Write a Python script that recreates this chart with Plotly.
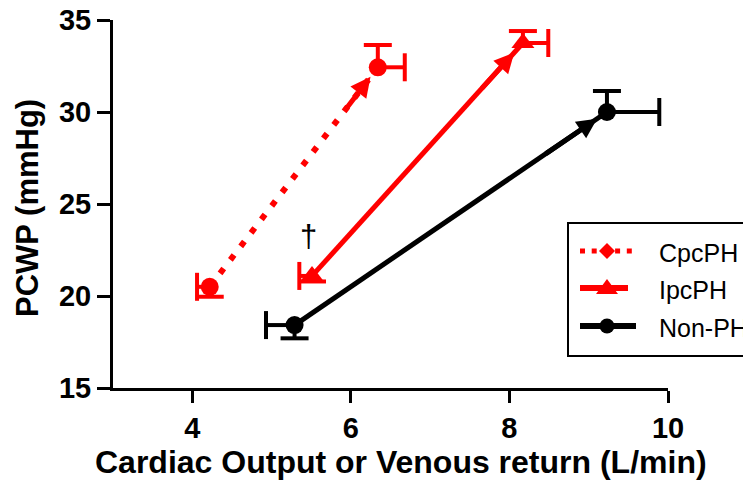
import plotly.graph_objects as go

# ---- data -------------------------------------------------------------
# each group: baseline point (index 0) and the end point of the arrow (index 1)
group_names = ["CpcPH", "IpcPH", "Non-PH"]

cpc_x = [4.22, 6.34]
cpc_y = [20.5, 32.43]
cpc_xerr_minus = [0.16, 0.0]
cpc_xerr_plus = [0.0, 0.34]
cpc_yerr_minus = [0.54, 0.0]
cpc_yerr_plus = [0.0, 1.21]

ipc_x = [5.51, 8.17]
ipc_y = [21.09, 33.75]
ipc_xerr_minus = [0.16, 0.0]
ipc_xerr_plus = [0.0, 0.32]
ipc_yerr_minus = [0.3, 0.0]
ipc_yerr_plus = [0.0, 0.65]

non_x = [5.29, 9.23]
non_y = [18.42, 30.0]
non_xerr_minus = [0.36, 0.0]
non_xerr_plus = [0.0, 0.66]
non_yerr_minus = [0.72, 0.0]
non_yerr_plus = [0.0, 1.14]

x_ticks = [4, 6, 8, 10]
y_ticks = [15, 20, 25, 30, 35]

RED = "#ff0000"
BLACK = "#000000"
FONT = "Liberation Sans, Arial, sans-serif"

# ---- page geometry ----------------------------------------------------
W_PAGE, H_PAGE = 743, 480
M_L, M_R, M_T, M_B = 113, 75, 20, 92
PLOT_W = W_PAGE - M_L - M_R
PLOT_H = H_PAGE - M_T - M_B


def px_x(px):
    return (px - M_L) / PLOT_W


def px_y(py):
    return (M_T + PLOT_H - py) / PLOT_H


series = [
    dict(name="CpcPH", x=cpc_x, y=cpc_y, xm=cpc_xerr_minus, xp=cpc_xerr_plus,
         ym=cpc_yerr_minus, yp=cpc_yerr_plus, color=RED, dash="6px,11px",
         symbol="circle", size=18, standoff=12),
    dict(name="IpcPH", x=ipc_x, y=ipc_y, xm=ipc_xerr_minus, xp=ipc_xerr_plus,
         ym=ipc_yerr_minus, yp=ipc_yerr_plus, color=RED, dash="solid",
         symbol="triangle-up", size=20, standoff=13),
    dict(name="Non-PH", x=non_x, y=non_y, xm=non_xerr_minus, xp=non_xerr_plus,
         ym=non_yerr_minus, yp=non_yerr_plus, color=BLACK, dash="solid",
         symbol="circle", size=18, standoff=12),
]

fig = go.Figure()


def whiskers(s):
    """One-sided error whiskers: segment coordinates plus cap positions."""
    wx, wy, cx, cy, csym = [], [], [], [], []
    for x, y, a, b, c, d in zip(s["x"], s["y"], s["xm"], s["xp"], s["ym"], s["yp"]):
        for dx, dy, cap_sym in ((-a, 0, "line-ns"), (b, 0, "line-ns"),
                                (0, -c, "line-ew"), (0, d, "line-ew")):
            if dx or dy:
                wx += [x, x + dx, None]
                wy += [y, y + dy, None]
                cx.append(x + dx)
                cy.append(y + dy)
                csym.append(cap_sym)
    return wx, wy, cx, cy, csym


for s in series:
    # connecting line
    fig.add_trace(go.Scatter(
        x=s["x"], y=s["y"], mode="lines",
        line=dict(color=s["color"], width=6 if s["dash"] != "solid" else 5, dash=s["dash"]),
        showlegend=False, hoverinfo="skip",
    ))
    # error whiskers and their caps
    wx, wy, cx, cy, csym = whiskers(s)
    fig.add_trace(go.Scatter(
        x=wx, y=wy, mode="lines", line=dict(color=s["color"], width=4),
        showlegend=False, hoverinfo="skip",
    ))
    fig.add_trace(go.Scatter(
        x=cx, y=cy, mode="markers",
        marker=dict(symbol=csym, size=20, color=s["color"], opacity=1,
                    line=dict(color=s["color"], width=4)),
        showlegend=False, hoverinfo="skip",
    ))
    # group means
    fig.add_trace(go.Scatter(
        x=s["x"], y=s["y"], mode="markers", name=s["name"],
        marker=dict(symbol=s["symbol"], size=s["size"], color=s["color"],
                    opacity=1, line=dict(width=0)),
        showlegend=False,
    ))

annotations = []
# arrowheads pointing from the baseline point towards the end point
for s in series:
    x0, x1 = s["x"]
    y0, y1 = s["y"]
    annotations.append(dict(
        x=x1, y=y1, xref="x", yref="y",
        ax=x0 + 0.8 * (x1 - x0), ay=y0 + 0.8 * (y1 - y0), axref="x", ayref="y",
        showarrow=True, arrowhead=2, arrowsize=0.8, arrowwidth=5,
        arrowcolor=s["color"], standoff=s["standoff"], text="",
    ))

# dagger above the IpcPH baseline
annotations.append(dict(
    x=ipc_x[0] - 0.04, y=ipc_y[0] + 2.15, xref="x", yref="y",
    text="†", showarrow=False, font=dict(family=FONT, size=31, color=BLACK),
))

# axis titles
annotations.append(dict(
    x=px_x(401), y=px_y(462), xref="paper", yref="paper",
    text="Cardiac Output or Venous return (L/min)", showarrow=False,
    xanchor="center", yanchor="middle",
    font=dict(family=FONT, size=32, color=BLACK, weight="bold"),
))
annotations.append(dict(
    x=px_x(27), y=px_y(208), xref="paper", yref="paper",
    text="PCWP (mmHg)", showarrow=False, textangle=-90,
    xanchor="center", yanchor="middle",
    font=dict(family=FONT, size=31, color=BLACK, weight="bold"),
))

# ---- legend box -------------------------------------------------------
shapes = [dict(
    type="rect", xref="paper", yref="paper",
    x0=px_x(568), x1=px_x(770), y0=px_y(356), y1=px_y(223),
    line=dict(color=BLACK, width=2), fillcolor="white", layer="above",
)]


def glyph_path(points, cx, cy):
    """Closed polygon given as pixel offsets (dx, dy; dy down) around (cx, cy)."""
    parts = [f"{px_x(cx + dx):.5f},{px_y(cy + dy):.5f}" for dx, dy in points]
    return "M" + "L".join(parts) + "Z"


LEG_X = 607
legend_rows = [
    dict(label=group_names[0], y=251, color=RED, dash="5px,6.7px", width=5, x_end=634,
         glyph="diamond"),
    dict(label=group_names[1], y=288, color=RED, dash="solid", width=6, x_end=628,
         glyph="triangle"),
    dict(label=group_names[2], y=326, color=BLACK, dash="solid", width=6, x_end=636,
         glyph="circle"),
]
for row in legend_rows:
    cy = row["y"]
    shapes.append(dict(
        type="line", xref="paper", yref="paper",
        x0=px_x(580), x1=px_x(row["x_end"]), y0=px_y(cy), y1=px_y(cy),
        line=dict(color=row["color"], width=row["width"], dash=row["dash"]), layer="above",
    ))
    if row["glyph"] == "circle":
        shapes.append(dict(
            type="circle", xref="paper", yref="paper",
            x0=px_x(LEG_X - 7.5), x1=px_x(LEG_X + 7.5),
            y0=px_y(cy + 7.5), y1=px_y(cy - 7.5),
            fillcolor=row["color"], line=dict(width=0), layer="above",
        ))
    else:
        pts = ([(0, -8), (8, 0), (0, 8), (-8, 0)] if row["glyph"] == "diamond"
               else [(0, -9), (11, 6), (-11, 6)])
        shapes.append(dict(
            type="path", xref="paper", yref="paper",
            path=glyph_path(pts, LEG_X, cy),
            fillcolor=row["color"], line=dict(width=0), layer="above",
        ))
    annotations.append(dict(
        x=px_x(657), y=px_y(cy + 2), xref="paper", yref="paper",
        text=row["label"], showarrow=False, xanchor="left", yanchor="middle",
        font=dict(family=FONT, size=25, color=BLACK),
    ))

axis_common = dict(
    showgrid=False, zeroline=False, showline=True, linecolor=BLACK, linewidth=3,
    ticks="outside", tickcolor=BLACK, tickwidth=3,
    tickfont=dict(family=FONT, size=29, color=BLACK, weight="bold"),
    fixedrange=True,
)

fig.update_layout(
    width=W_PAGE, height=H_PAGE,
    margin=dict(l=M_L, r=M_R, t=M_T, b=M_B, autoexpand=False),
    paper_bgcolor="white", plot_bgcolor="white",
    showlegend=False,
    xaxis=dict(range=[3, 10], tickvals=x_ticks, ticklen=12, **axis_common),
    yaxis=dict(range=[15, 35], tickvals=y_ticks, ticklen=13, **axis_common),
    annotations=annotations,
    shapes=shapes,
)

fig.write_html("out.html", config={"displayModeBar": False})
